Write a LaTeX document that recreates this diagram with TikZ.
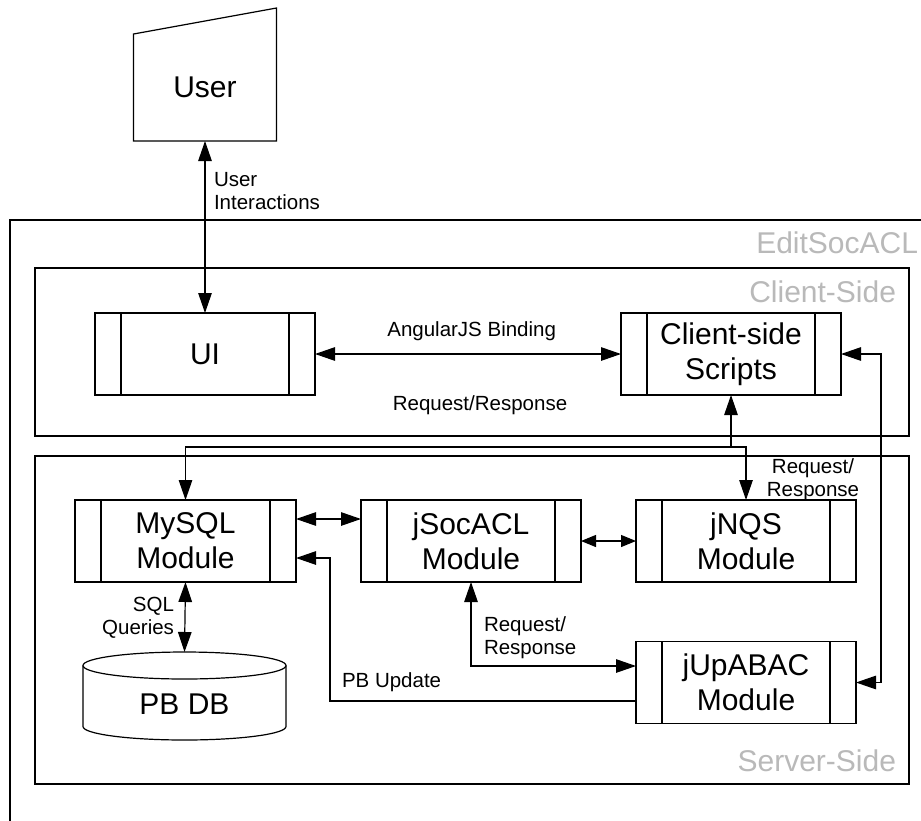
\documentclass[tikz,border=0pt]{standalone}
\usepackage{fontspec}
\setmainfont{Liberation Sans}
\usetikzlibrary{arrows.meta,calc}

\definecolor{lblgray}{RGB}{185,185,185}

\tikzset{
  every node/.style={inner sep=0pt, outer sep=0pt},
  big/.style={font=\fontsize{30}{35}\selectfont, align=center},
  small/.style={font=\fontsize{20.5}{23}\selectfont},
  graylbl/.style={font=\fontsize{30}{35}\selectfont, text=lblgray, anchor=east},
  module/.style={draw, fill=white, line width=1.2pt, minimum width=220pt,
    minimum height=82pt, big,
    path picture={
      \draw[line width=1.2pt]
        ([xshift=26pt]path picture bounding box.north west) --
        ([xshift=26pt]path picture bounding box.south west);
      \draw[line width=1.2pt]
        ([xshift=-26pt]path picture bounding box.north east) --
        ([xshift=-26pt]path picture bounding box.south east);
    }},
  container/.style={draw, line width=1.2pt, anchor=north west},
  link/.style={line width=1.2pt},
  bi/.style={link, {Triangle[length=20pt,width=13.5pt]}-{Triangle[length=20pt,width=13.5pt]}},
  bishort/.style={link, {Triangle[length=15pt,width=12pt]}-{Triangle[length=15pt,width=12pt]}},
  uni/.style={link, -{Triangle[length=20pt,width=13.5pt]}},
}

\begin{document}
\begin{tikzpicture}[x=1pt, y=-1pt]
\useasboundingbox (0,0) rectangle (921,820);
\clip (0,0) rectangle (921,820);
\fill[white] (0,0) rectangle (921,820);

% containers
\node[container, minimum width=940pt, minimum height=640pt] (editsocacl) at (10,220) {};
\node[container, minimum width=874pt, minimum height=168pt] (clientside) at (35,268) {};
\node[container, minimum width=874pt, minimum height=328pt] (serverside) at (35,456) {};

\node[graylbl] (lbledit) at (918,243) {EditSocACL};
\node[graylbl] (lblclient) at (896,292) {Client-Side};
\node[graylbl] (lblserver) at (896,761) {Server-Side};

% user (manual input shape)
\node[minimum width=143pt, minimum height=107pt, big] (user) at (205,87.5) {User};
\draw[link] (user.north west) -- ([yshift=26pt]user.north east)
  -- (user.south east) -- (user.south west) -- cycle;

% modules
\node[module] (ui) at (205,354) {UI};
\node[module] (css) at (731,354) {Client-side\\Scripts};
\node[module, minimum width=221pt] (mysql) at (185.5,541) {MySQL\\Module};
\node[module] (jsocacl) at (471,541) {jSocACL\\Module};
\node[module] (jnqs) at (746,541) {jNQS\\Module};
\node[module] (jupabac) at (746,682.5) {jUpABAC\\Module};

% database cylinder
\node[minimum width=203pt, minimum height=88pt] (db) at (184.5,696) {};
\draw[link, fill=white] ([yshift=-13.5pt]db.north west)
  -- ([yshift=13.5pt]db.south west)
  arc[start angle=180, end angle=360, x radius=101.5pt, y radius=13.5pt]
  -- ([yshift=-13.5pt]db.north east)
  arc[start angle=0, end angle=180, x radius=101.5pt, y radius=13.5pt] -- cycle;
\draw[link] ([yshift=-13.5pt]db.north west)
  arc[start angle=180, end angle=360, x radius=101.5pt, y radius=13.5pt];
\node[big] (dblabel) at (184.5,704) {PB DB};

% connectors
\draw[bi] (user.south) -- (ui.north);
\draw[bi] (ui.east) -- (css.west);
\coordinate (junc) at (731,447);
\draw[uni] (junc) -- (css.south);
\draw[bi] (mysql.north) |- (junc) -| (jnqs.north);
\draw[bi] ([yshift=22pt]mysql.east) -- ([yshift=22pt]jsocacl.west);
\draw[bishort] (jsocacl.east) -- (jnqs.west);
\draw[bi] (jsocacl.south) |- ([yshift=16.5pt]jupabac.west);
\coordinate (pbcorner) at (330,558);
\draw[uni] ([yshift=-18.5pt]jupabac.west) -| (pbcorner) -- (mysql.east |- pbcorner);
\coordinate (rcorner) at (881,354);
\draw[bi] (css.east) -- (rcorner) |- (jupabac.east);
\draw[bi] (mysql.south) -- (db.north);

% connector labels
\node[small, anchor=west, align=left] (lbluser) at (214,191.5) {User\\Interactions};
\node[small, anchor=east] (lblangular) at (556,331) {AngularJS Binding};
\node[small] (lblreqclient) at (480,405) {Request/Response};
\node[small, align=center] (lblreqnqs) at (813,480) {Request/\\Response};
\node[small, anchor=west, align=left] (lblreqab) at (484,638) {Request/\\Response};
\node[small, anchor=west] (lblpb) at (342,682) {PB Update};
\node[small, anchor=east, align=right] (lblsql) at (174,617.5) {SQL\\Queries};
\end{tikzpicture}
\end{document}
